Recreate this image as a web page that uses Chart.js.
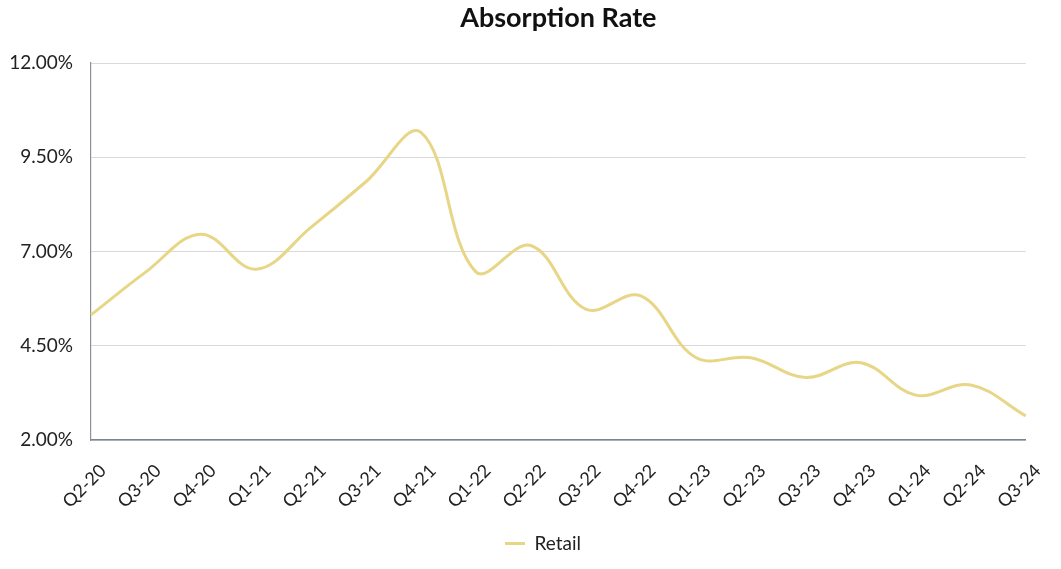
<!DOCTYPE html>
<html>
<head>
<meta charset="utf-8">
<script src="https://cdn.jsdelivr.net/npm/chart.js@4"></script>
<style>
  html, body { margin: 0; padding: 0; background: #ffffff; }
  #wrap { width: 1061px; height: 569px; position: relative; }
</style>
</head>
<body>
<div id="wrap"><canvas id="c"></canvas></div>
<script>
const categories = ["Q2-20","Q3-20","Q4-20","Q1-21","Q2-21","Q3-21","Q4-21","Q1-22","Q2-22","Q3-22","Q4-22","Q1-23","Q2-23","Q3-23","Q4-23","Q1-24","Q2-24","Q3-24"];
const retail = [5.32, 6.46, 7.46, 6.53, 7.64, 8.85, 10.16, 6.46, 7.16, 5.47, 5.82, 4.19, 4.18, 3.66, 4.05, 3.19, 3.46, 2.64];
const yTicks = [2.0, 4.5, 7.0, 9.5, 12.0];
const chartTitle = 'Absorption Rate';

const FONT = "Lato, 'Open Sans', sans-serif";

// Title centred over the plot area (as in the reference)
const centredTitle = {
  id: 'centredTitle',
  afterDraw(chart) {
    const { ctx, chartArea } = chart;
    ctx.save();
    ctx.fillStyle = '#111111';
    ctx.font = "bold 27px " + FONT;
    ctx.textAlign = 'center';
    ctx.textBaseline = 'alphabetic';
    ctx.fillText(chartTitle, (chartArea.left + chartArea.right) / 2, 27);
    ctx.restore();
  }
};

// nudge the legend so that it sits where the reference has it
const legendShift = {
  id: 'legendShift',
  afterLayout(chart) {
    const lg = chart.legend;
    if (lg) { lg.left += 29; lg.right += 29; }
  }
};

new Chart(document.getElementById('c'), {
  type: 'line',
  data: {
    labels: categories,
    datasets: [{
      label: 'Retail',
      data: retail,
      borderColor: '#E6D686',
      backgroundColor: '#E6D686',
      borderWidth: 3,
      pointRadius: 0,
      pointHoverRadius: 0,
      tension: 0.38,
      pointStyle: 'line',
      fill: false
    }]
  },
  plugins: [centredTitle, legendShift],
  options: {
    responsive: true,
    maintainAspectRatio: false,
    animation: false,
    layout: { padding: { left: 0, right: 33, top: 63, bottom: 6 } },
    plugins: {
      title: { display: false },
      legend: {
        display: true,
        position: 'bottom',
        labels: {
          usePointStyle: true,
          pointStyleWidth: 20,
          color: '#222222',
          font: { family: FONT, size: 19 },
          padding: 10
        }
      },
      tooltip: { enabled: false }
    },
    scales: {
      x: {
        offset: false,
        grid: { display: false, drawTicks: false },
        border: { display: true, color: '#7b838c', width: 1.5 },
        ticks: {
          color: '#222222',
          font: { family: FONT, size: 18 },
          maxRotation: 45,
          minRotation: 45,
          autoSkip: false,
          padding: 20,
          labelOffset: 12
        },
        afterFit(scale) { scale.height = 84; }
      },
      y: {
        min: 2,
        max: 12,
        afterBuildTicks(scale) { scale.ticks = yTicks.map(v => ({ value: v })); },
        grid: { color: '#d9d9d9', lineWidth: 1, drawTicks: false },
        border: { display: true, color: '#8a9199', width: 1.2 },
        ticks: {
          color: '#222222',
          font: { family: FONT, size: 19 },
          padding: 18,
          callback: v => Number(v).toFixed(2) + '%'
        },
        afterFit(scale) { scale.width = 91; }
      }
    }
  }
});
</script>
</body>
</html>
